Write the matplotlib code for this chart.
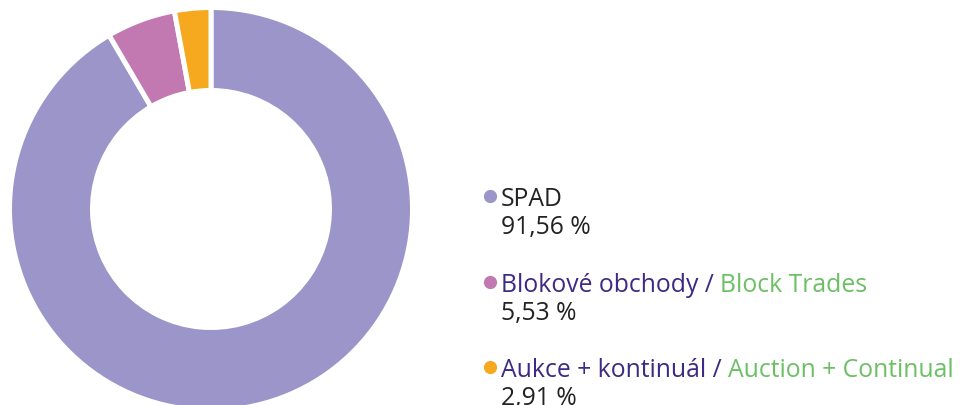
import matplotlib
matplotlib.use('Agg')
import matplotlib.pyplot as plt

# 데이터
labels_cz = ['SPAD', 'Blokové obchody', 'Aukce + kontinuál']
labels_en = [None, 'Block Trades', 'Auction + Continual']
values = [91.56, 5.53, 2.91]
value_texts = ['91,56 %', '5,53 %', '2,91 %']
colors = ['#9b95c9', '#c278b0', '#f6a81f']

W, H = 961, 406
plt.rcParams['font.family'] = ['Open Sans', 'DejaVu Sans']

fig = plt.figure(figsize=(W / 100, H / 100), dpi=100)
fig.set_facecolor('white')

# 도넛 차트 (픽셀 기준 위치)
cx, cy, r = 211, 210, 199
ax = fig.add_axes([(cx - r) / W, (H - cy - r) / H, 2 * r / W, 2 * r / H])
edge = 5  # px
R = (r + edge / 2) / r
r_in = (121 - edge / 2) / r
wedges, _ = ax.pie(values, colors=colors, startangle=90, counterclock=False,
                   radius=R,
                   wedgeprops=dict(width=R - r_in, edgecolor='white',
                                   linewidth=edge * 0.72))
for w in wedges:
    w.set_clip_on(False)
ax.set_xlim(-1, 1)
ax.set_ylim(-1, 1)
ax.set_aspect('auto')
ax.axis('off')

# 범례 (픽셀 좌표 오버레이)
lx = fig.add_axes([0, 0, 1, 1], facecolor='none')
lx.set_xlim(0, W)
lx.set_ylim(H, 0)
lx.axis('off')

purple = '#3d2a84'
green = '#6cc064'
black = '#222222'
fs = 17.8
renderer = fig.canvas.get_renderer()

mark_x, text_x = 490, 501
base_y = [206, 292, 377]
for i in range(3):
    by = base_y[i]
    lx.plot(mark_x, by - 9, 'o', color=colors[i], markersize=9.5,
            markeredgewidth=0, clip_on=False)
    if labels_en[i] is None:
        lx.text(text_x, by, labels_cz[i], color=black, fontsize=fs,
                va='baseline', ha='left')
    else:
        t1 = lx.text(text_x, by, labels_cz[i] + ' /', color=purple,
                     fontsize=fs, va='baseline', ha='left')
        bb = t1.get_window_extent(renderer)
        lx.text(bb.x1 + 6, by, labels_en[i], color=green,
                fontsize=fs, va='baseline', ha='left')
    lx.text(text_x, by + 28, value_texts[i], color=black,
            fontsize=fs, va='baseline', ha='left', clip_on=False)

fig.savefig('out.png', dpi=100, facecolor='white')
plt.close()
